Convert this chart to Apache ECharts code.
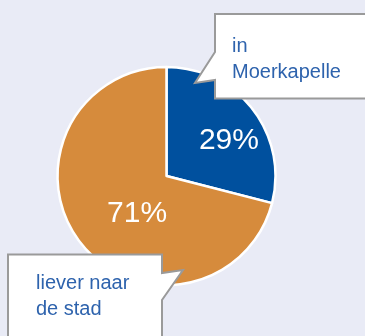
<!DOCTYPE html>
<html>
<head>
<meta charset="utf-8">
<script src="https://cdn.jsdelivr.net/npm/echarts@6/dist/echarts.min.js"></script>
<style>
  html, body { margin: 0; padding: 0; background: #e9ebf6; }
  #chart { width: 365px; height: 336px; }
</style>
</head>
<body>
<div id="chart"></div>
<script>
// Share of respondents: staying in Moerkapelle vs. preferring the city
const categories = ['in\nMoerkapelle', 'liever naar\nde stad'];
const values = [29, 71];
const sliceColors = ['#00509e', '#d68b3c'];

const chart = echarts.init(document.getElementById('chart'), null, { renderer: 'canvas' });

// Small nudges for the percentage labels inside each slice
const labelNudge = [[17, 0], [16, 2]];

const calloutStroke = '#9a9a9a';
const textBlue = '#2e63ad';

const option = {
  backgroundColor: '#e9ebf6',
  animation: false,
  series: [{
    type: 'pie',
    center: [166.5, 176],
    radius: [0, 109],
    startAngle: 90,
    clockwise: true,
    silent: true,
    itemStyle: { borderColor: '#ffffff', borderWidth: 2.5 },
    label: {
      show: true,
      position: 'inside',
      formatter: p => p.value + '%',
      color: '#ffffff',
      fontFamily: 'Liberation Sans',
      fontSize: 30
    },
    labelLine: { show: false },
    labelLayout: p => ({ dx: labelNudge[p.dataIndex][0], dy: labelNudge[p.dataIndex][1] }),
    data: values.map((v, i) => ({
      name: categories[i],
      value: v,
      itemStyle: { color: sliceColors[i] }
    }))
  }],
  graphic: [
    {
      type: 'polygon',
      z: 100,
      shape: { points: [[215, 14], [372, 14], [372, 98.5], [215, 98.5], [215, 80], [195, 83], [215, 52]] },
      style: { fill: '#ffffff', stroke: calloutStroke, lineWidth: 2 }
    },
    {
      type: 'text',
      z: 101,
      x: 232, y: 33,
      style: {
        text: categories[0],
        fill: textBlue,
        font: '20px "Liberation Sans"',
        lineHeight: 26,
        textVerticalAlign: 'top'
      }
    },
    {
      type: 'polygon',
      z: 100,
      shape: { points: [[8, 254.5], [162, 254.5], [162, 273], [183, 270], [162, 300], [162, 345], [8, 345]] },
      style: { fill: '#ffffff', stroke: calloutStroke, lineWidth: 2 }
    },
    {
      type: 'text',
      z: 101,
      x: 36, y: 270,
      style: {
        text: categories[1],
        fill: textBlue,
        font: '20px "Liberation Sans"',
        lineHeight: 26,
        textVerticalAlign: 'top'
      }
    }
  ]
};

chart.setOption(option);
</script>
</body>
</html>
